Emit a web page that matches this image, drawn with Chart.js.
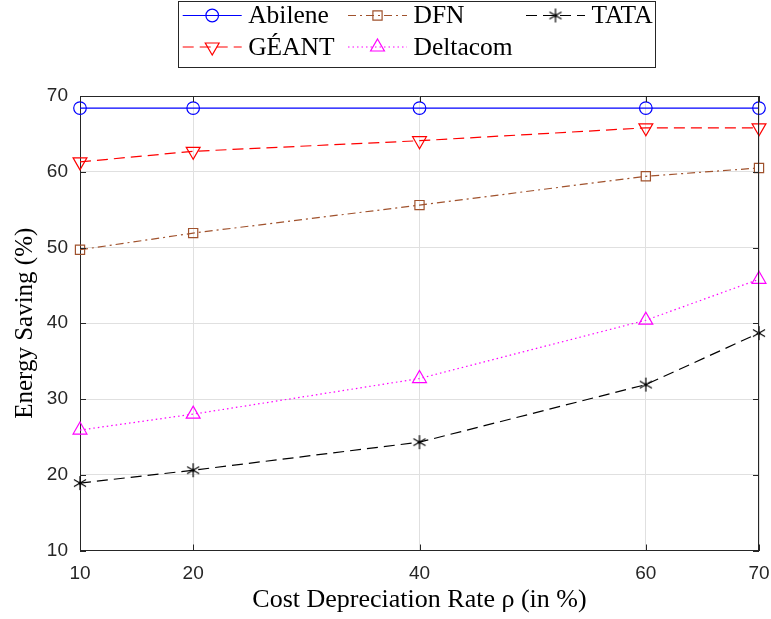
<!DOCTYPE html>
<html>
<head>
<meta charset="utf-8">
<script src="https://cdn.jsdelivr.net/npm/chart.js@4"></script>
<style>
  html, body { margin: 0; padding: 0; background: #fff; }
  #wrap { width: 771px; height: 619px; position: relative; }
</style>
</head>
<body>
<div id="wrap"><canvas id="savingChart"></canvas></div>
<script>
// cost depreciation rate (x) and energy saving per topology (y, %)
const rates = [10, 20, 40, 60, 70];
const abilene = [68.4, 68.4, 68.4, 68.4, 68.4];
const geant = [61.3, 62.7, 64.1, 65.8, 65.8];
const dfn = [49.7, 51.9, 55.6, 59.4, 60.5];
const deltacom = [25.9, 28.0, 32.7, 40.4, 45.8];
const tata = [18.9, 20.6, 24.3, 31.9, 38.7];

const yTicks = [10, 20, 30, 40, 50, 60, 70];

const serif = '"Liberation Serif", "DejaVu Serif", serif';
const sans = '"Liberation Sans", Arial, sans-serif';
const axisColor = '#262626';

// matlab style asterisk: vertical stroke plus two diagonals
function makeAsterisk(size) {
  const c = document.createElement('canvas');
  c.width = size; c.height = size;
  const g = c.getContext('2d');
  const m = size / 2, r = size / 2 - 1;
  g.strokeStyle = '#000';
  g.lineWidth = 1.2;
  g.beginPath();
  for (const a of [90, 30, 150]) {
    const dx = r * Math.cos(a * Math.PI / 180), dy = r * Math.sin(a * Math.PI / 180);
    g.moveTo(m - dx, m - dy);
    g.lineTo(m + dx, m + dy);
  }
  g.stroke();
  g.fillStyle = '#000';
  g.beginPath(); g.arc(m, m, 1.6, 0, Math.PI * 2); g.fill();
  return c;
}
const asterisk = makeAsterisk(16);

function series(label, data, color, dash, style, radius, rotation) {
  return {
    label: label,
    data: rates.map((x, i) => ({x: x, y: data[i]})),
    borderColor: color,
    backgroundColor: 'rgba(0,0,0,0)',
    borderWidth: 1.2,
    borderDash: dash,
    pointStyle: style,
    pointRadius: radius,
    pointHoverRadius: radius,
    pointRotation: rotation || 0,
    pointBorderColor: color,
    pointBackgroundColor: 'rgba(0,0,0,0)',
    pointBorderWidth: 1.2,
    tension: 0,
    clip: false
  };
}

const datasets = [
  series('Abilene', abilene, '#0000ff', [], 'circle', 6.3),
  series('GÉANT', geant, '#ff0000', [11, 6], 'triangle', 8, 180),
  series('DFN', dfn, '#a0522d', [8, 4, 2, 4], 'rect', 6.5),
  series('Deltacom', deltacom, '#ff00ff', [1.5, 3], 'triangle', 8),
  series('TATA', tata, '#000000', [11, 6], asterisk, 7)
];

// legend: three columns, filled column by column
const legendCols = [182.7, 348, 526];
const legendRows = [15.5, 47];
const legendOrder = [[0, 0, 0], [1, 0, 1], [2, 1, 0], [3, 1, 1], [4, 2, 0]];

const boxAndLegend = {
  id: 'boxAndLegend',
  afterDraw(chart) {
    const ctx = chart.ctx;
    const a = chart.chartArea;
    const xs = chart.scales.x, ys = chart.scales.y;
    ctx.save();
    // top and right frame with inward ticks
    ctx.strokeStyle = axisColor;
    ctx.lineWidth = 1;
    ctx.beginPath();
    ctx.moveTo(a.left, a.top + 0.5); ctx.lineTo(a.right, a.top + 0.5);
    ctx.moveTo(a.right - 0.5, a.top); ctx.lineTo(a.right - 0.5, a.bottom);
    rates.forEach(v => {
      const px = Math.round(xs.getPixelForValue(v)) + 0.5;
      ctx.moveTo(px, a.bottom); ctx.lineTo(px, a.bottom - 6);
      ctx.moveTo(px, a.top); ctx.lineTo(px, a.top + 6);
    });
    yTicks.forEach(v => {
      const py = Math.round(ys.getPixelForValue(v)) + 0.5;
      ctx.moveTo(a.left, py); ctx.lineTo(a.left + 6, py);
      ctx.moveTo(a.right, py); ctx.lineTo(a.right - 6, py);
    });
    ctx.stroke();

    // legend box
    ctx.fillStyle = '#fff';
    ctx.fillRect(178.5, 1.5, 477, 66);
    ctx.strokeStyle = axisColor;
    ctx.strokeRect(178.5, 1.5, 477, 66);
    ctx.font = '25.5px ' + serif;
    ctx.textBaseline = 'middle';
    ctx.textAlign = 'left';
    legendOrder.forEach(([i, col, row]) => {
      const ds = datasets[i];
      const x0 = legendCols[col], y0 = legendRows[row];
      ctx.strokeStyle = ds.borderColor;
      ctx.lineWidth = ds.borderWidth;
      ctx.setLineDash(ds.borderDash);
      ctx.beginPath();
      ctx.moveTo(x0, y0); ctx.lineTo(x0 + 59, y0);
      ctx.stroke();
      ctx.setLineDash([]);
      ctx.fillStyle = 'rgba(0,0,0,0)';
      Chart.helpers.drawPoint(ctx, {
        pointStyle: ds.pointStyle,
        radius: ds.pointRadius,
        rotation: ds.pointRotation,
        borderWidth: ds.pointBorderWidth
      }, x0 + 29.5, y0);
      ctx.fillStyle = '#000';
      ctx.fillText(ds.label, x0 + 65.5, y0 + 1);
    });
    ctx.restore();
  }
};

new Chart(document.getElementById('savingChart'), {
  type: 'line',
  data: { datasets: datasets },
  options: {
    responsive: true,
    maintainAspectRatio: false,
    animation: false,
    events: [],
    layout: { padding: { top: 96, right: 12, left: 0, bottom: 0 } },
    plugins: { legend: { display: false }, tooltip: { enabled: false } },
    scales: {
      x: {
        type: 'linear',
        min: 10,
        max: 70,
        afterBuildTicks: s => { s.ticks = rates.map(v => ({value: v})); },
        afterFit: s => { s.height = 68.5; s.paddingLeft = 0; s.paddingRight = 0; },
        grid: { color: '#e0e0e0', drawTicks: false },
        border: { color: axisColor, width: 1 },
        ticks: { color: axisColor, padding: 12, font: { family: sans, size: 19 } },
        title: {
          display: true,
          text: 'Cost Depreciation Rate ρ (in %)',
          color: '#000',
          font: { family: serif, size: 26 },
          padding: { top: 0, bottom: 3 }
        }
      },
      y: {
        min: 10,
        max: 70,
        afterBuildTicks: s => { s.ticks = yTicks.map(v => ({value: v})); },
        afterFit: s => { s.width = 80; },
        grid: { color: '#e0e0e0', drawTicks: false },
        border: { color: axisColor, width: 1 },
        ticks: { color: axisColor, padding: 12, font: { family: sans, size: 19 } },
        title: {
          display: true,
          text: 'Energy Saving (%)',
          color: '#000',
          font: { family: serif, size: 25 },
          padding: { top: 10, bottom: 0 }
        }
      }
    }
  },
  plugins: [boxAndLegend]
});
</script>
</body>
</html>
